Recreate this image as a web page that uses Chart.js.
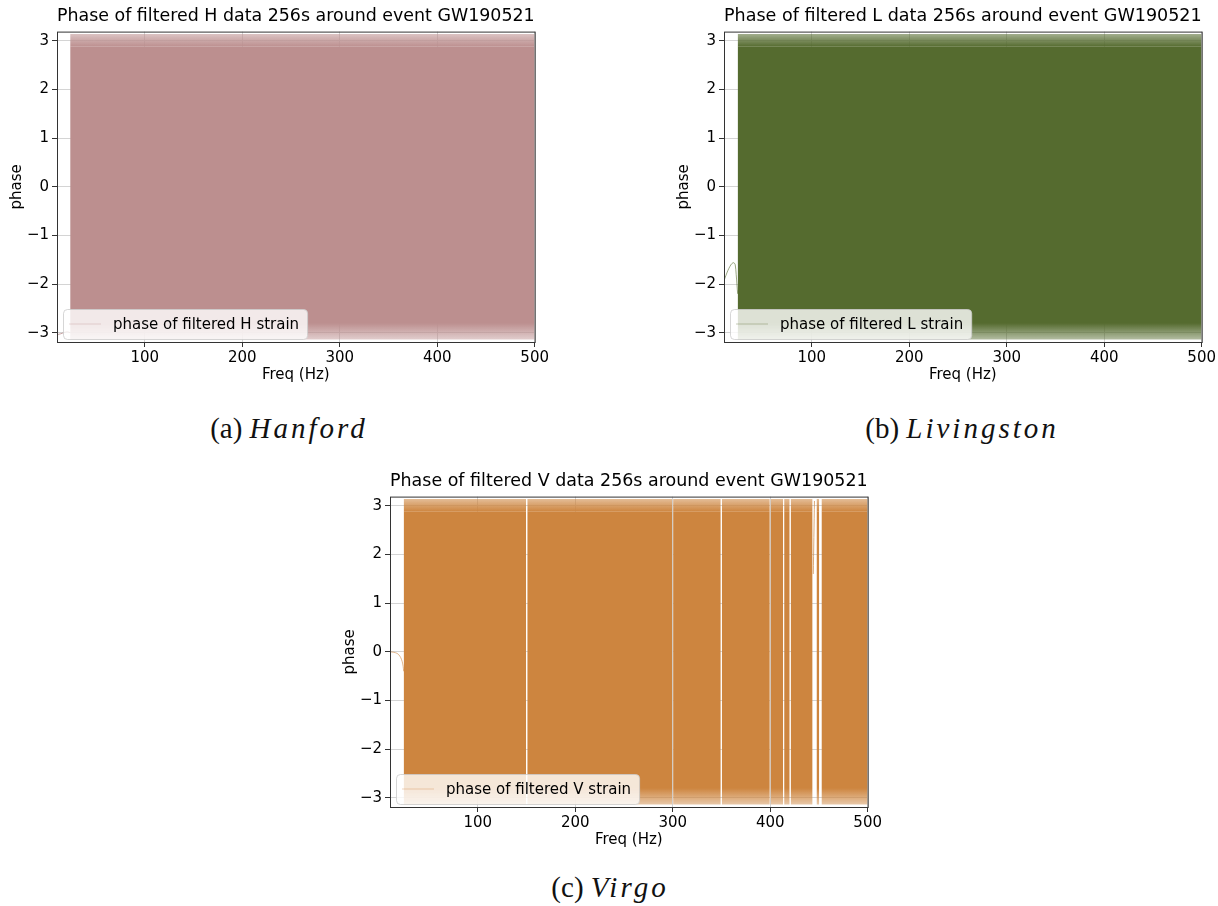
<!DOCTYPE html>
<html lang="en">
<head>
<meta charset="UTF-8">
<title>Phase of filtered strain around GW190521</title>
<script src="https://cdn.jsdelivr.net/npm/chart.js@4.4.0/dist/chart.umd.min.js"></script>
<style>
  body { margin: 0; background: #fff; width: 1218px; height: 906px; overflow: hidden; position: relative; }
  .panel { position: absolute; width: 551px; height: 390px; }
  .caption { position: absolute; font-family: "Liberation Serif", serif; font-size: 29px; color: #111;
             transform: translateX(-50%); white-space: nowrap; line-height: 34px; }
  .caption i { letter-spacing: 3px; }
</style>
</head>
<body>
<div class="panel" style="left:0;top:0"><canvas id="chartH" width="551" height="390"></canvas></div>
<div class="panel" style="left:667px;top:0"><canvas id="chartL" width="551" height="390"></canvas></div>
<div class="panel" style="left:333px;top:465px"><canvas id="chartV" width="551" height="390"></canvas></div>

<div class="caption" style="left:289px;top:411px">(a) <i>Hanford</i></div>
<div class="caption" style="left:962px;top:411px">(b) <i>Livingston</i></div>
<div class="caption" style="left:610px;top:870px">(c) <i>Virgo</i></div>

<script>
// axis ranges and ticks
const freqRange = [10, 500];
const phaseRange = [-3.19, 3.19];
const freqTicks = [100, 200, 300, 400, 500];
const phaseTicks = [-3, -2, -1, 0, 1, 2, 3];

// the wrapped phase fills the whole [-pi, pi] strip, sparser near the rims
const phaseEnvelope = [-3.14, 3.14];
const phaseCore = [-2.8, 2.88];

// frequency stretches covered by the band (Hz)
const hSegments = [[23.5, 500]];
const lSegments = [[24, 500]];
const vSegments = [[24, 149.6], [150.8, 299.6], [300.4, 349.3], [350.4, 399.6], [400.4, 413.3],
                   [414.3, 420.0], [421.0, 443.5], [447.5, 450.3], [452.6, 500]];

// low-frequency tails before the band starts
const hLeadFreq = [10, 14, 18, 21, 23.5];
const hLeadPhase = [-3.04, -3.02, -2.99, -2.98, -3.0];
const lLeadFreq = [10, 12, 14, 16, 18, 20, 21.5, 22.5, 24];
const lLeadPhase = [-1.93, -1.82, -1.72, -1.64, -1.58, -1.56, -1.6, -1.8, -2.2];
const vLeadFreq = [10, 14, 17, 19, 21, 22.5, 23.5, 24];
const vLeadPhase = [0, -0.01, -0.03, -0.06, -0.12, -0.2, -0.3, -0.4];

// thin features inside the band
const hNotchFreq = [48, 48];
const hNotchPhase = [3.1, -1.17];
const vBridgeFreq = [444.2, 445.4];
const vBridgePhase = [1.6, 3.1];

const FONT = '"DejaVu Sans", sans-serif';

function fade(hex, a) {
  const n = parseInt(hex.slice(1), 16);
  return `rgba(${n >> 16},${(n >> 8) & 255},${n & 255},${a})`;
}

// rim of the band: solid at the core edge, thinning out towards +-pi
function rimFill(color, from, to, endAlpha) {
  return ctx => {
    const { chart } = ctx;
    const y = chart.scales.y;
    if (!y || !chart.chartArea) return color;
    const g = chart.ctx.createLinearGradient(0, y.getPixelForValue(from), 0, y.getPixelForValue(to));
    g.addColorStop(0, color);
    g.addColorStop(1, fade(color, endAlpha));
    return g;
  };
}

function strip(a, b, y, base, bg) {
  return { data: [{ x: a, y: y }, { x: b, y: y }], fill: { value: base },
           backgroundColor: bg, borderWidth: 0, pointRadius: 0 };
}

function bandDatasets(segments, color) {
  const sets = [];
  segments.forEach(([a, b]) => {
    sets.push(strip(a, b, phaseCore[1], phaseCore[0], color));
    sets.push(strip(a, b, phaseEnvelope[1], phaseCore[1],
                    rimFill(color, phaseCore[1], phaseEnvelope[1], 0.55)));
    sets.push(strip(a, b, phaseCore[0], phaseEnvelope[0],
                    rimFill(color, phaseCore[0], phaseEnvelope[0], 0.45)));
  });
  return sets;
}

function trace(freq, phase, color, width) {
  return { data: freq.map((f, i) => ({ x: f, y: phase[i] })), borderColor: color,
           borderWidth: width, pointRadius: 0, fill: false, tension: 0.3 };
}

// axes box + legend in the lower left corner, like matplotlib
const frameAndLegend = {
  id: 'frameAndLegend',
  afterDatasetsDraw(chart, args, opts) {
    const { ctx, chartArea: ca } = chart;
    ctx.save();
    ctx.strokeStyle = '#333';
    ctx.lineWidth = 1;
    ctx.strokeRect(ca.left + 0.5, ca.top + 0.5, ca.right - ca.left, ca.bottom - ca.top);

    ctx.font = '15px ' + FONT;
    const tw = ctx.measureText(opts.text).width;
    const h = 30, x = ca.left + 6, y = ca.bottom - 3 - h, w = 50 + tw + 8;
    ctx.beginPath();
    ctx.roundRect(x + 0.5, y + 0.5, w, h, 4);
    ctx.fillStyle = 'rgba(255,255,255,0.8)';
    ctx.fill();
    ctx.strokeStyle = 'rgba(204,204,204,0.8)';
    ctx.stroke();
    ctx.beginPath();
    ctx.moveTo(x + 6, y + h / 2);
    ctx.lineTo(x + 38, y + h / 2);
    ctx.strokeStyle = fade(opts.color, 0.35);
    ctx.stroke();
    ctx.fillStyle = '#000';
    ctx.textBaseline = 'middle';
    ctx.fillText(opts.text, x + 50, y + h / 2 + 1);
    ctx.restore();
  }
};

function makePanel(id, det, color, segments, extras) {
  new Chart(document.getElementById(id), {
    type: 'line',
    data: { datasets: bandDatasets(segments, color).concat(extras) },
    plugins: [frameAndLegend],
    options: {
      responsive: false,
      animation: false,
      events: [],
      layout: { padding: { left: 0, right: 16, top: 0, bottom: 0 } },
      plugins: {
        legend: { display: false },
        tooltip: { enabled: false },
        title: {
          display: true,
          fullSize: false,
          text: `Phase of filtered ${det} data 256s around event GW190521`,
          font: { family: FONT, size: 18, weight: 'normal' },
          color: '#000',
          padding: { top: 6, bottom: 4 }
        },
        frameAndLegend: { text: `phase of filtered ${det} strain`, color: color }
      },
      scales: {
        x: {
          type: 'linear',
          min: freqRange[0],
          max: freqRange[1],
          afterBuildTicks: s => { s.ticks = freqTicks.map(v => ({ value: v })); },
          afterFit: s => { s.height = 48; },
          grid: { color: '#d4d4d4', tickColor: '#333', tickLength: 5 },
          border: { display: false },
          ticks: { font: { family: FONT, size: 15 }, color: '#000', padding: 2, maxRotation: 0 },
          title: { display: true, text: 'Freq (Hz)', font: { family: FONT, size: 15 }, color: '#000',
                   padding: { top: 0, bottom: 6 } }
        },
        y: {
          min: phaseRange[0],
          max: phaseRange[1],
          afterBuildTicks: s => { s.ticks = phaseTicks.map(v => ({ value: v })); },
          afterFit: s => { s.width = 57; },
          grid: { color: '#d4d4d4', tickColor: '#333', tickLength: 5 },
          border: { display: false },
          ticks: { font: { family: FONT, size: 15 }, color: '#000', padding: 3,
                   callback: v => v < 0 ? '\u2212' + Math.abs(v) : String(v) },
          title: { display: true, text: 'phase', font: { family: FONT, size: 15 }, color: '#000',
                   padding: { top: 8, bottom: 0 } }
        }
      }
    }
  });
}

makePanel('chartH', 'H', '#bc8f8f', hSegments, [
  trace(hLeadFreq, hLeadPhase, fade('#bc8f8f', 0.8), 1),
  trace(hNotchFreq, hNotchPhase, 'rgba(255,255,255,0.35)', 1)
]);
makePanel('chartL', 'L', '#556b2f', lSegments, [
  trace(lLeadFreq, lLeadPhase, fade('#556b2f', 0.6), 1)
]);
makePanel('chartV', 'V', '#cd853f', vSegments, [
  trace(vLeadFreq, vLeadPhase, fade('#cd853f', 0.6), 1),
  trace(vBridgeFreq, vBridgePhase, fade('#cd853f', 0.7), 1)
]);
</script>
</body>
</html>
